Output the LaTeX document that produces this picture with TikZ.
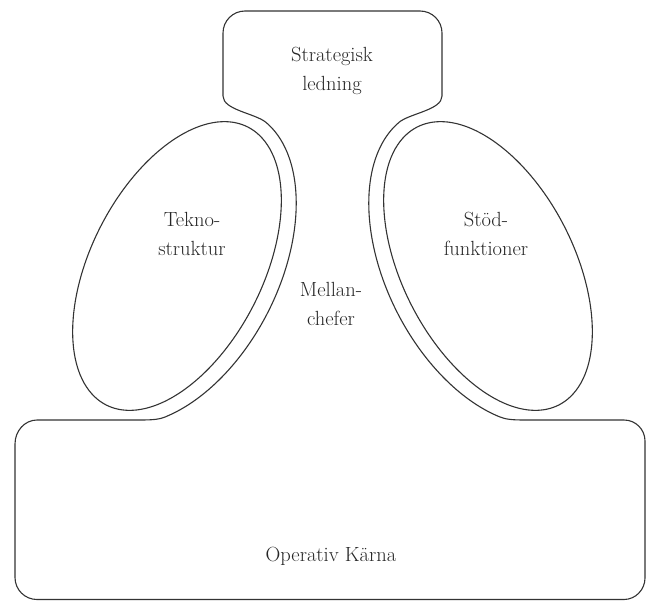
\documentclass[tikz,border=0pt]{standalone}
\usepackage{fontspec}
\begin{document}
\begin{tikzpicture}[x=1pt,y=-1pt,
  outline/.style={draw=black!80,line width=1.1pt,line join=round},
  lbl/.style={text=black!85,align=center,font=\fontsize{20.5}{28.5}\selectfont,inner sep=0pt}]
\useasboundingbox (0,0) rectangle (648,602);
% outer contour
\draw[outline]
  (37,420) -- (140,420)
  .. controls (153,420) and (159.4,419.4) .. (165.9,416.7)
  -- plot[domain=145:8,samples=80,variable=\t]
     ({177+77.18*cos(\t)+90.88*sin(\t)},{266-151.47*cos(\t)+46.31*sin(\t)})
  .. controls (255.4,113.4) and (223,110) .. (223,96)
  -- (223,33) .. controls (223,20.85) and (232.85,11) .. (245,11)
  -- (420,11) .. controls (432.15,11) and (442,20.85) .. (442,33)
  -- (442,96)
  .. controls (442,110) and (409.6,113.4) .. (398.9,122.4)
  -- plot[domain=8:145,samples=80,variable=\t]
     ({488-77.18*cos(\t)-90.88*sin(\t)},{266-151.47*cos(\t)+46.31*sin(\t)})
  .. controls (505.6,419.4) and (512,420) .. (525,420)
  -- (624,420) .. controls (635.6,420) and (645,429.4) .. (645,441)
  -- (645,578) .. controls (645,589.6) and (635.6,599.5) .. (624,599.5)
  -- (37,599.5) .. controls (24.85,599.5) and (15,589.65) .. (15,577.5)
  -- (15,444) .. controls (15,430.75) and (24.85,420) .. (37,420) -- cycle;
% inner ellipses
\draw[outline] plot[smooth cycle,domain=0:355,samples=72,variable=\t]
  ({177+70.82*cos(\t)+76.63*sin(\t)},{266-139.0*cos(\t)+39.04*sin(\t)});
\draw[outline] plot[smooth cycle,domain=0:355,samples=72,variable=\t]
  ({488-70.82*cos(\t)-76.63*sin(\t)},{266-139.0*cos(\t)+39.04*sin(\t)});
% labels
\node[lbl] (strat) at (332,71) {Strategisk\\ledning};
\node[lbl] (tekno) at (192,234) {Tekno-\\struktur};
\node[lbl] (stod) at (486,234) {Stöd-\\funktioner};
\node[lbl] (mellan) at (331,304) {Mellan-\\chefer};
\node[lbl] (op) at (331,556) {Operativ Kärna};
\end{tikzpicture}
\end{document}
